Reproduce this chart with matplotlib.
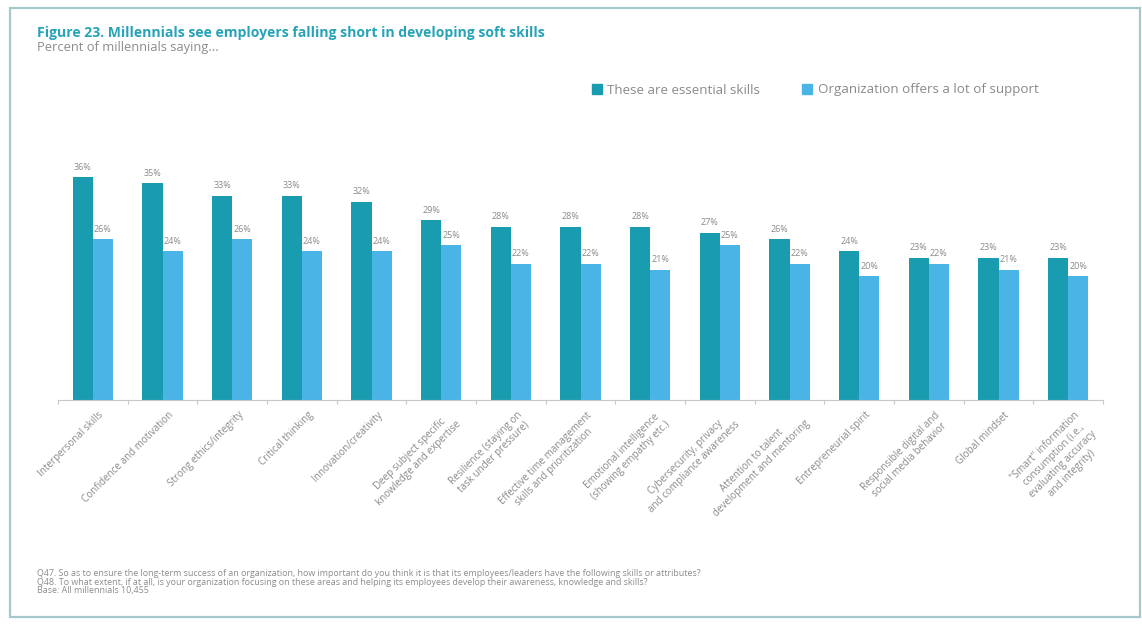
import numpy as np
import matplotlib.pyplot as plt
from matplotlib.patches import Rectangle
from matplotlib.lines import Line2D

plt.rcParams['font.family'] = ['Open Sans', 'DejaVu Sans']

skills = [
    "Interpersonal skills",
    "Confidence and motivation",
    "Strong ethics/integrity",
    "Critical thinking",
    "Innovation/creativity",
    "Deep subject specific\nknowledge and expertise",
    "Resilience (staying on\ntask under pressure)",
    "Effective time management\nskills and prioritization",
    "Emotional intelligence\n(showing empathy etc.)",
    "Cybersecurity, privacy\nand compliance awareness",
    "Attention to talent\ndevelopment and mentoring",
    "Entrepreneurial spirit",
    "Responsible digital and\nsocial media behavior",
    "Global mindset",
    "\"Smart\" information\nconsumption (i.e.,\nevaluating accuracy\nand integrity)",
]
essential = [36, 35, 33, 33, 32, 29, 28, 28, 28, 27, 26, 24, 23, 23, 23]
support = [26, 24, 26, 24, 24, 25, 22, 22, 21, 25, 22, 20, 22, 21, 20]

series_names = ["These are essential skills", "Organization offers a lot of support"]
teal = "#1a9cb0"
blue = "#4ab4e6"
grey = "#8a8a8a"

W, H = 1142, 626
fig = plt.figure(figsize=(W / 100, H / 100), dpi=100)

# outer frame
fig.patches.append(Rectangle((10 / W, 1 - 617 / H), 1130 / W, 609 / H,
                             transform=fig.transFigure, fill=False,
                             edgecolor="#a7c8ca", lw=1.6))

ymax = 40
ax = fig.add_axes([58 / W, 1 - 400 / H, 1045 / W, ymax * 6.19 / H])

x = np.arange(len(skills))
bw = 0.29
b1 = ax.bar(x - bw / 2, essential, bw, color=teal)
b2 = ax.bar(x + bw / 2, support, bw, color=blue)

for bars, vals in ((b1, essential), (b2, support)):
    for r, v in zip(bars, vals):
        ax.annotate(f"{v}%", (r.get_x() + r.get_width() / 2, v),
                    xytext=(0, 4), textcoords="offset points",
                    ha="center", va="bottom", fontsize=6.5, color=grey)

ax.set_xlim(-0.5, len(skills) - 0.5)
ax.set_ylim(0, ymax)
for s in ("top", "right", "left"):
    ax.spines[s].set_visible(False)
ax.spines["bottom"].set_color("#c8c8c8")
ax.set_yticks([])

# small ticks between groups, labels under group centres
ax.set_xticks(np.arange(-0.5, len(skills), 1.0))
ax.set_xticklabels([])
ax.tick_params(axis="x", length=3, color="#c8c8c8")
ax.set_xticks(x + 0.08, minor=True)
ax.set_xticklabels(skills, minor=True, rotation=45, ha="right",
                   va="top", rotation_mode="anchor", fontsize=7.1,
                   color=grey, multialignment="center")
ax.tick_params(axis="x", which="minor", length=0, pad=7)

# titles
fig.text(37 / W, 1 - 33 / H, "Figure 23. Millennials see employers falling short in developing soft skills",
         fontsize=10.1, fontweight="bold", color="#27a3b8", va="center")
fig.text(37 / W, 1 - 48 / H, "Percent of millennials saying...",
         fontsize=9.3, color="#8c8c8c", va="center")

# legend
handles = [Line2D([], [], marker="s", ls="", markersize=6.8, color=c) for c in (teal, blue)]
fig.legend(handles, series_names, loc="center left",
           bbox_to_anchor=(578 / W, 1 - 90 / H), ncol=2, frameon=False,
           fontsize=9.6, labelcolor=grey, handletextpad=0.3,
           columnspacing=3.0, handlelength=1.0)

# notes
notes = [
    "Q47. So as to ensure the long-term success of an organization, how important do you think it is that its employees/leaders have the following skills or attributes?",
    "Q48. To what extent, if at all, is your organization focusing on these areas and helping its employees develop their awareness, knowledge and skills?",
    "Base: All millennials 10,455",
]
for i, n in enumerate(notes):
    fig.text(37 / W, 1 - (574 + 8.5 * i) / H, n, fontsize=6.4, color="#8c8c8c", va="center")

fig.savefig("out.png", dpi=100)
